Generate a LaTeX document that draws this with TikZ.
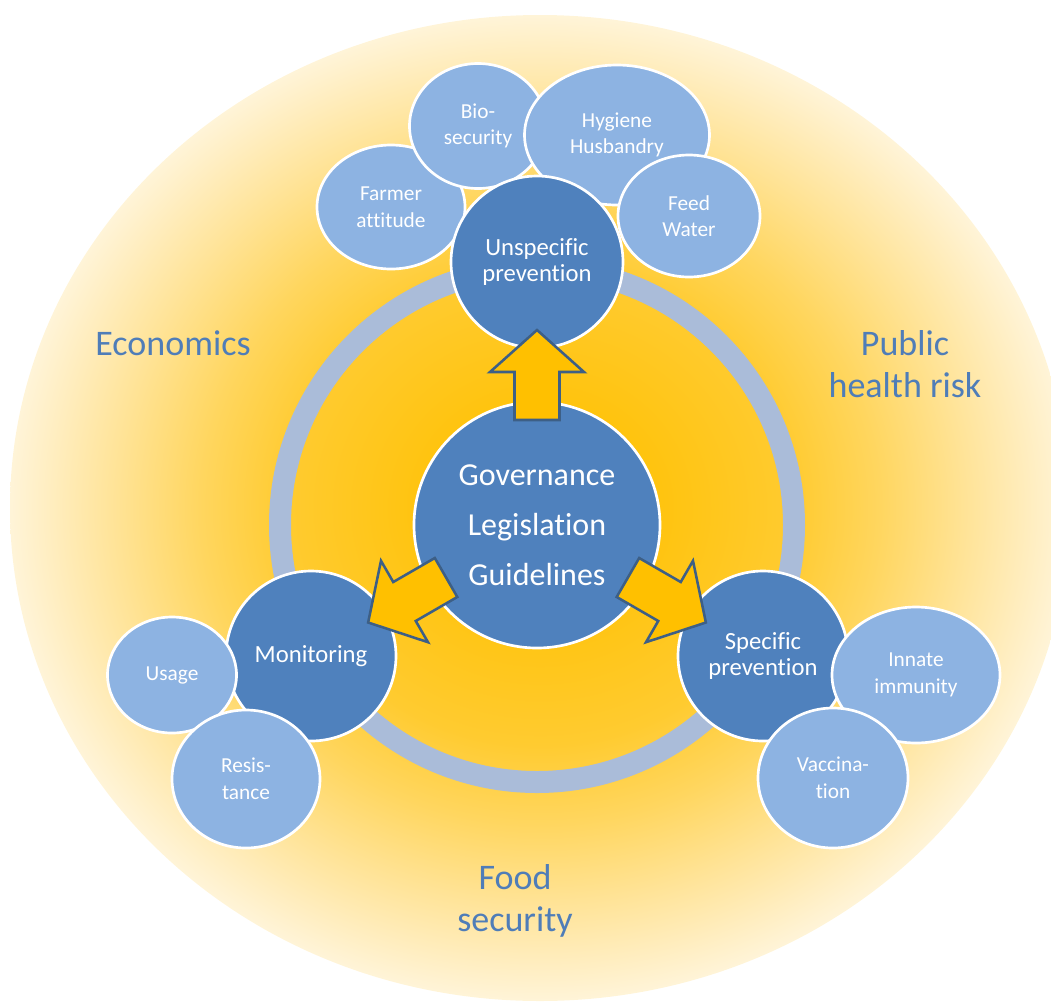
\documentclass[tikz,border=0pt]{standalone}
\usepackage{fontspec}
\setmainfont{Carlito}[Ligatures={NoCommon}]
\usetikzlibrary{shapes.geometric}
\definecolor{darkb}{HTML}{4F81BD}
\definecolor{lightb}{HTML}{8DB3E2}
\definecolor{ringc}{HTML}{AABCD9}
\definecolor{labc}{HTML}{4F7DB8}
\definecolor{gold}{HTML}{FFC000}
\definecolor{arrowline}{HTML}{3D5F86}
\definecolor{ya}{HTML}{FFC000}
\definecolor{yb}{HTML}{FFC30C}
\definecolor{yc}{HTML}{FFCB30}
\definecolor{yd}{HTML}{FFD65F}
\definecolor{ye}{HTML}{FFE396}
\definecolor{yf}{HTML}{FFEDBE}
\definecolor{yg}{HTML}{FFF4D8}
\pgfdeclareradialshading{bgshade}{\pgfpoint{0bp}{0bp}}{color(0bp)=(ya); color(5bp)=(yb); color(12bp)=(yc); color(16bp)=(yd); color(20bp)=(ye); color(23bp)=(yf); color(25bp)=(yg); color(50bp)=(yg)}
\begin{document}
\begin{tikzpicture}[x=0.75pt,y=-0.75pt,
  hub/.style={circle, fill=darkb, draw=white, line width=2pt, text=white, align=center, inner sep=0pt, minimum size=#1},
  leaf/.style={ellipse, fill=lightb, draw=white, line width=2pt, text=white, align=center, inner sep=0pt},
  hubfont/.style={font=\fontsize{18.5}{19.5}\selectfont},
  leaffont/.style={font=\fontsize{16}{20}\selectfont},
  outer/.style={text=labc, align=center, font=\fontsize{27}{32}\selectfont},
  blockarrow/.style={fill=gold, draw=arrowline, line width=1.9pt, line join=miter}]
\useasboundingbox (0,0) rectangle (1051,1001);
\clip (0,0) rectangle (1051,1001);
% background
\shade[shading=bgshade] (540,508) ellipse [x radius=397.5pt, y radius=369.75pt];
% ring
\coordinate (rc) at (537,525);
\draw[ringc, line width=16.5pt] (rc) circle [radius=192.75pt];
% outer labels
\node[outer] (econ) at (173,343) {Economics};
\node[outer] (pub) at (905,364) {Public\\health risk};
\node[outer] (food) at (515,901) {Food\\security};
% central
\node[hub=184.5pt, font=\fontsize{24}{37.5}\selectfont] (G) at (537,525) {Governance\\Legislation\\Guidelines};
% top cluster
\node[leaf, leaffont, minimum width=111pt, minimum height=93pt] (farmer) at (391,207) {Farmer\\attitude};
\node[leaf, leaffont, minimum width=102.75pt, minimum height=93.75pt] (bio) at (478,126) {Bio-\\security};
\node[leaf, leaffont, minimum width=138.75pt, minimum height=105pt] (hyg) at (617,135) {Hygiene\\Husbandry};
\node[hub=129pt, hubfont] (U) at (537,262) {Unspecific\\prevention};
\node[leaf, leaffont, minimum width=106.5pt, minimum height=91.5pt] (feed) at (689,216) {Feed\\Water};
% left cluster
\node[hub=127.5pt, hubfont] (M) at (311,656) {Monitoring};
\node[leaf, leaffont, minimum width=96.75pt, minimum height=87pt] (usage) at (172,675) {Usage};
\node[leaf, leaffont, minimum width=111pt, minimum height=103.5pt] (res) at (246,779) {Resis-\\tance};
% right cluster
\node[hub=127.5pt, hubfont] (S) at (763,656) {Specific\\prevention};
\node[leaf, leaffont, minimum width=126pt, minimum height=102pt] (innate) at (916,675) {Innate\\immunity};
\node[leaf, leaffont, minimum width=112.5pt, minimum height=105pt] (vacc) at (833,778) {Vaccina-\\tion};
% block arrows
\foreach \ang in {0,120,-120}{
  \begin{scope}[shift={(G.center)}, rotate=\ang]
    \draw[blockarrow] (-22.5,-105) -- (-22.5,-153) -- (-47,-153) -- (0,-195) -- (47,-153) -- (22.5,-153) -- (22.5,-105) -- cycle;
  \end{scope}
}
\end{tikzpicture}
\end{document}
